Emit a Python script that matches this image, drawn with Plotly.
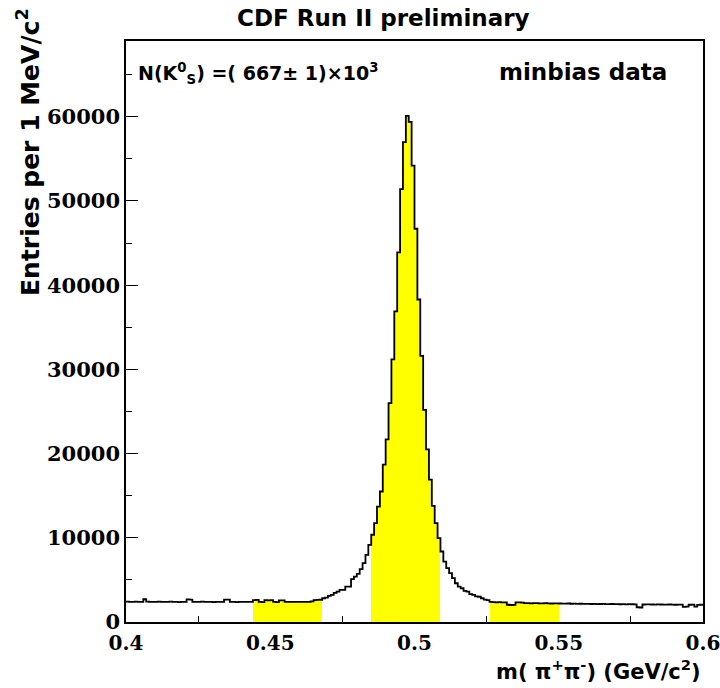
import plotly.graph_objects as go

# Histogram binning: 200 bins of 1 MeV/c^2 between 0.40 and 0.60 GeV/c^2
x_min = 0.400
x_max = 0.600
n_bins = 200

# Entries per bin (pi+ pi- invariant mass)
counts_low_bkg = [
    2420, 2400, 2380, 2410, 2390, 2400, 2700, 2410, 2390, 2380,
    2400, 2420, 2390, 2400, 2380, 2410, 2390, 2400, 2370, 2390,
    2400, 2680, 2650, 2400, 2380, 2390, 2410, 2380, 2400, 2390,
    2370, 2400, 2380, 2390, 2660, 2650, 2380, 2390, 2370, 2400,
    2380, 2390, 2380, 2400,
]
counts_low_side = [
    2600, 2620, 2380, 2360, 2600, 2580, 2600, 2380, 2370, 2580,
    2560, 2390, 2390, 2400, 2380, 2400, 2390, 2380, 2400, 2390,
    2450, 2600, 2620, 2640,
]
counts_rise = [
    2820, 2900, 3100, 3210, 3450, 3610, 3810, 3810, 4200, 4200,
    5080, 5400, 5710, 6270, 6990, 7980, 9170,
]
counts_peak = [
    10360, 11750, 13700, 15500, 18700, 21700, 26000, 31200, 36900, 43900,
    51400, 57000, 60100, 59400, 54200, 46700, 38300, 31600, 25200, 20500,
    16900, 13800, 11750, 9960, 8370, 7180, 6390, 5800, 5200, 4600,
    4200, 4010, 3700, 3610, 3300, 3210, 3050, 3000, 2820, 2650,
    2600,
]
counts_high_side = [
    2400, 2360, 2340, 2350, 2330, 2340, 2050, 2020, 2040, 2330,
    2340, 2300, 2240, 2230, 2220, 2230, 2240, 2220, 2210, 2230,
    2220, 2200, 2210, 2220,
]
counts_high_bkg = [
    2200, 2190, 2180, 2200, 2170, 2180, 2160, 2170, 2150, 2160,
    2150, 2140, 2160, 2130, 2140, 2150, 2130, 2120, 2140, 2130,
    2120, 2110, 2130, 2100, 2120, 2110, 2100, 1750, 1720, 2080,
    2100, 2090, 2080, 2070, 2090, 2080, 2060, 2070, 2080, 2060,
    2050, 2070, 2060, 1800, 1820, 2050, 2060, 1820, 2040, 2050,
]

# Shaded mass windows: lower sideband, signal region, upper sideband
bands = [(0.444, 0.468), (0.485, 0.509), (0.526, 0.550)]

x_tick_vals = [0.40, 0.45, 0.50, 0.55, 0.60]
x_tick_text = ["0.4", "0.45", "0.5", "0.55", "0.6"]
y_tick_vals = [0, 10000, 20000, 30000, 40000, 50000, 60000]
y_tick_text = ["0", "10000", "20000", "30000", "40000", "50000", "60000"]

counts = (counts_low_bkg + counts_low_side + counts_rise + counts_peak
          + counts_high_side + counts_high_bkg)

bin_w = (x_max - x_min) / n_bins
edges = [x_min + i * bin_w for i in range(n_bins + 1)]
centers = [0.5 * (edges[i] + edges[i + 1]) for i in range(n_bins)]

# bins falling inside the shaded windows
sel_x, sel_y = [], []
for c, v in zip(centers, counts):
    if any(lo < c < hi for lo, hi in bands):
        sel_x.append(c)
        sel_y.append(v)

fig = go.Figure()
fig.add_trace(go.Bar(
    x=sel_x, y=sel_y, width=bin_w,
    marker=dict(color="#ffff00", line=dict(width=0)),
    hoverinfo="skip", showlegend=False,
))
fig.add_trace(go.Scatter(
    x=edges, y=counts + [counts[-1]],
    mode="lines", line=dict(shape="hv", color="black", width=1.8),
    hoverinfo="skip", showlegend=False,
))

# page geometry of the frame (pixels)
L, R, T, B = 126, 703, 41, 622
W, H = 720, 688


def xp(px):
    return (px - L) / (R - L)


def yp(py):
    return (B - py) / (B - T)


sans = "DejaVu Sans"
serif = "DejaVu Serif"
pad = 1e-6

fig.update_layout(
    width=W, height=H,
    margin=dict(l=L, r=W - R, t=T, b=H - B, autoexpand=False),
    paper_bgcolor="white", plot_bgcolor="white",
    bargap=0, showlegend=False,
    xaxis=dict(
        range=[x_min - pad, x_max + pad], automargin=False,
        tickvals=x_tick_vals, ticktext=x_tick_text,
        ticks="inside", ticklen=12, tickwidth=1.2, tickcolor="black",
        minor=dict(dtick=0.025, tick0=0.4, ticks="inside", ticklen=6,
                   tickwidth=1.2, tickcolor="black"),
        showline=True, linecolor="black", linewidth=1.6, mirror=True,
        showgrid=False, zeroline=False, layer="below traces",
        ticklabeloverflow="allow", ticklabelstandoff=2,
        tickfont=dict(family=serif, size=20, color="black", weight="bold"),
    ),
    yaxis=dict(
        range=[0, 69000], automargin=False,
        tickvals=y_tick_vals, ticktext=y_tick_text,
        ticks="inside", ticklen=12, tickwidth=1.2, tickcolor="black",
        minor=dict(dtick=5000, tick0=0, ticks="inside", ticklen=6,
                   tickwidth=1.2, tickcolor="black"),
        showline=True, linecolor="black", linewidth=1.6, mirror=True,
        showgrid=False, zeroline=False, layer="below traces",
        ticklabeloverflow="allow",
        tickfont=dict(family=serif, size=21, color="black", weight="bold"),
    ),
    annotations=[
        dict(text="CDF Run II preliminary", x=xp(383), y=yp(18),
             xref="paper", yref="paper", showarrow=False,
             xanchor="center", yanchor="middle",
             font=dict(family=sans, size=23, color="black", weight="bold")),
        dict(text="N(K<sup>0</sup><sub>S</sub>) =( 667± 1)×10<sup>3</sup>",
             x=xp(136), y=yp(73), xref="paper", yref="paper",
             showarrow=False, xanchor="left", yanchor="middle",
             font=dict(family=sans, size=19, color="black", weight="bold")),
        dict(text="minbias data", x=xp(497), y=yp(72),
             xref="paper", yref="paper", showarrow=False,
             xanchor="left", yanchor="middle",
             font=dict(family=sans, size=23, color="black", weight="bold")),
        dict(text="Entries per 1 MeV/c<sup>2</sup>", x=xp(29), y=yp(6),
             xref="paper", yref="paper", showarrow=False, textangle=-90,
             xanchor="center", yanchor="top",
             font=dict(family=sans, size=25, color="black", weight="bold")),
        dict(text="m( π<sup>+</sup>π<sup>-</sup>) (GeV/c<sup>2</sup>)",
             x=xp(703), y=yp(686), xref="paper", yref="paper",
             showarrow=False, xanchor="right", yanchor="bottom",
             font=dict(family=sans, size=21, color="black", weight="bold")),
    ],
)

fig.write_html("out.html")
